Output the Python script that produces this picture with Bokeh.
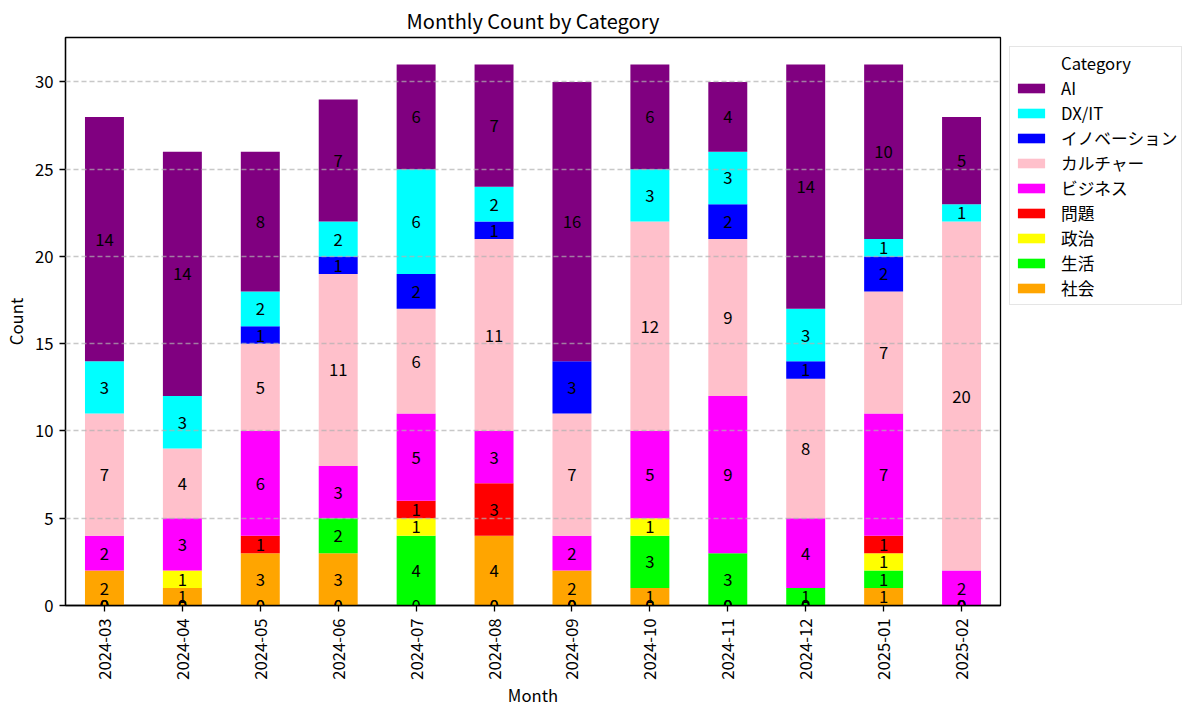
import math
import numpy as np
from bokeh.plotting import figure
from bokeh.models import ColumnDataSource, FactorRange, Range1d, Legend, LegendItem, LabelSet
from bokeh.core.properties import value
from bokeh.embed import file_html
from bokeh.resources import INLINE

months = ["2024-03", "2024-04", "2024-05", "2024-06", "2024-07", "2024-08",
          "2024-09", "2024-10", "2024-11", "2024-12", "2025-01", "2025-02"]

# stacking order: bottom to top
categories = ["社会", "生活", "政治", "問題", "ビジネス", "カルチャー", "イノベーション", "DX/IT", "AI"]
colors = ["orange", "lime", "yellow", "red", "magenta", "pink", "blue", "cyan", "purple"]

shakai     = [2, 1, 3, 3, 0, 4, 2, 1, 0, 0, 1, 0]
seikatsu   = [0, 0, 0, 2, 4, 0, 0, 3, 3, 1, 1, 0]
seiji      = [0, 1, 0, 0, 1, 0, 0, 1, 0, 0, 1, 0]
mondai     = [0, 0, 1, 0, 1, 3, 0, 0, 0, 0, 1, 0]
business   = [2, 3, 6, 3, 5, 3, 2, 5, 9, 4, 7, 2]
culture    = [7, 4, 5, 11, 6, 11, 7, 12, 9, 8, 7, 20]
innovation = [0, 0, 1, 1, 2, 1, 3, 0, 2, 1, 2, 0]
dxit       = [3, 3, 2, 2, 6, 2, 0, 3, 3, 3, 1, 1]
ai         = [14, 14, 8, 7, 6, 7, 16, 6, 4, 14, 10, 5]

y_ticks = [0, 5, 10, 15, 20, 25, 30]

series = [shakai, seikatsu, seiji, mondai, business, culture, innovation, dxit, ai]

FONT = "Noto Sans CJK JP"
FS = "16.7px"

data = {"month": months}
keys = []
for i, s in enumerate(series):
    k = "s%d" % i
    data[k] = s
    keys.append(k)
source = ColumnDataSource(data)

totals = np.sum(np.array(series), axis=0)
y_end = float(totals.max()) * 1.05

p = figure(x_range=FactorRange(*months), y_range=Range1d(0, y_end),
           frame_width=935, frame_height=568, output_backend="svg", toolbar_location=None,
           title="Monthly Count by Category",
           min_border_left=58, min_border_right=191, min_border_top=30, min_border_bottom=90)

renderers = p.vbar_stack(keys, x="month", width=0.5, source=source,
                         fill_color=colors, line_color=None)

# invisible renderer used only to carry the legend title row
title_src = ColumnDataSource(dict(x=[], top=[]))
title_r = p.vbar(x="x", top="top", width=0.5, source=title_src, fill_color=None, line_color=None)

# segment labels (zero-valued segments sit at the baseline, like pandas stacking)
lx, ly, lt = [], [], []
pos = np.zeros(len(months))
for s in series:
    v = np.array(s, dtype=float)
    m = v > 0
    start = np.where(m, pos, 0.0)
    center = start + v / 2.0
    pos = pos + np.where(m, v, 0.0)
    for i in range(len(months)):
        lx.append(months[i])
        ly.append(float(center[i]))
        lt.append(str(int(v[i])))
lab_src = ColumnDataSource(dict(x=lx, y=ly, text=lt))
labels = LabelSet(x="x", y="y", text="text", source=lab_src,
                  text_align="center", text_baseline="middle",
                  text_font=value(FONT), text_font_size=FS, text_color="black")

# title
p.title.align = "center"
p.title.text_font = FONT
p.title.text_font_size = "20px"
p.title.text_font_style = "normal"
p.title.text_color = "black"
p.title.standoff = 6

# axes
p.xaxis.axis_label = "Month"
p.yaxis.axis_label = "Count"
p.yaxis.ticker = y_ticks
for ax in (p.xaxis, p.yaxis):
    ax.axis_label_text_font = FONT
    ax.axis_label_text_font_size = FS
    ax.axis_label_text_font_style = "normal"
    ax.axis_label_text_color = "black"
    ax.major_label_text_font = FONT
    ax.major_label_text_font_size = FS
    ax.major_label_text_color = "black"
    ax.axis_line_color = "black"
    ax.axis_line_width = 1.3
    ax.major_tick_line_color = "black"
    ax.major_tick_line_width = 1.3
    ax.major_tick_out = 6
    ax.major_tick_in = 0
    ax.minor_tick_line_color = None
    ax.major_label_standoff = 6
    ax.axis_label_standoff = 4
p.xaxis.major_label_orientation = math.pi / 2
p.xaxis.major_label_standoff = 7
p.xaxis.axis_label_standoff = 0

p.outline_line_color = "black"
p.outline_line_width = 1.3
p.xgrid.visible = False
p.ygrid.grid_line_color = "#b0b0b0"
p.ygrid.grid_line_alpha = 0.7
p.ygrid.grid_line_width = 1.3
p.ygrid.grid_line_dash = "5 3"
p.ygrid.level = "guide"

p.add_layout(labels)

# legend (top-first order), title row first
items = [LegendItem(label="Category", renderers=[title_r])]
items += [LegendItem(label=categories[i], renderers=[renderers[i]]) for i in reversed(range(len(categories)))]
legend = Legend(items=items, location="top_left", margin=9,
                padding=4, spacing=1, label_height=20, glyph_height=12, glyph_width=34,
                label_standoff=13, label_text_font=FONT, label_text_font_size=FS,
                label_text_color="black",
                border_line_color="#cccccc", border_line_width=1,
                background_fill_color="white", background_fill_alpha=0.8)
p.add_layout(legend, "right")

open("out.html", "w").write(file_html(p, INLINE))
